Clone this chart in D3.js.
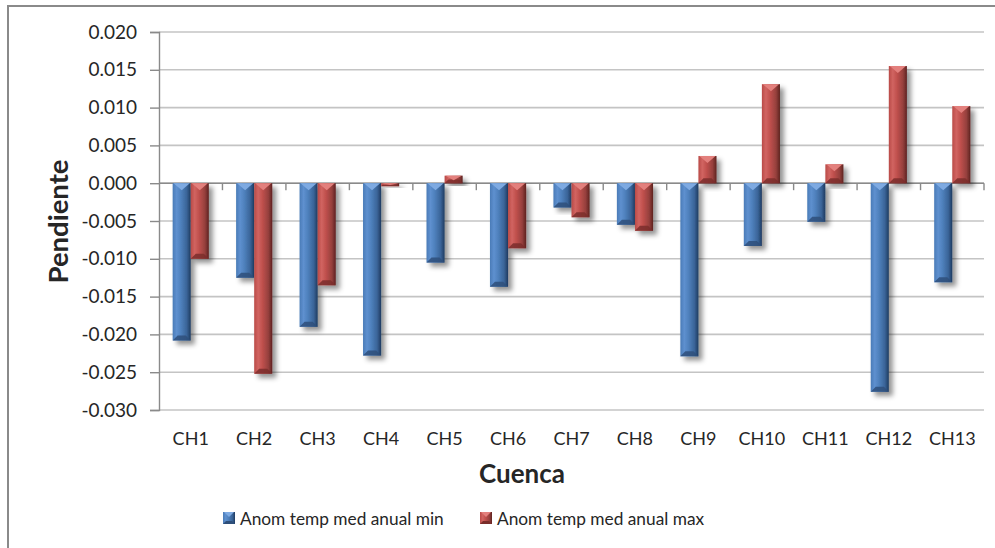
<!DOCTYPE html>
<html>
<head>
<meta charset="utf-8">
<script src="https://cdn.jsdelivr.net/npm/d3@7"></script>
<style>
  html, body { margin: 0; padding: 0; background: #fff; }
  svg { display: block; }
  text { font-family: Lato, "Open Sans", sans-serif; fill: #262626; }
</style>
</head>
<body>
<svg id="chart" width="995" height="548"></svg>
<script>
// Trend slopes of annual mean temperature anomalies per basin
const categories = ["CH1","CH2","CH3","CH4","CH5","CH6","CH7","CH8","CH9","CH10","CH11","CH12","CH13"];
const minSeries = [-0.0208, -0.0125, -0.0190, -0.0228, -0.0105, -0.0137, -0.0032, -0.0055, -0.0229, -0.0083, -0.0051, -0.0276, -0.0131];
const maxSeries = [-0.0100, -0.0252, -0.0135, -0.0004, 0.0010, -0.0086, -0.0045, -0.0063, 0.0036, 0.0131, 0.0025, 0.0155, 0.0102];
const seriesNames = ["Anom temp med anual min", "Anom temp med anual max"];
const yTicks = [0.020, 0.015, 0.010, 0.005, 0.000, -0.005, -0.010, -0.015, -0.020, -0.025, -0.030];

const svg = d3.select("#chart");
const plot = { left: 159, right: 984, top: 32, bottom: 410 };

// chart frame
svg.append("rect").attr("x", 8).attr("y", 6).attr("width", 1100).attr("height", 700)
  .attr("fill", "#fff").attr("stroke", "#8a8a8a").attr("stroke-width", 2);

const defs = svg.append("defs");
const palettes = [
  { id: "blue", stops: [["0%", "#4a7bb7"], ["22%", "#5e90cf"], ["45%", "#4f81bd"], ["78%", "#3a6498"], ["100%", "#1f3b60"]],
    top: "#7eaae2", bottom: "#2e4f7a" },
  { id: "red", stops: [["0%", "#b94a47"], ["22%", "#d16461"], ["45%", "#c0504d"], ["78%", "#96403d"], ["100%", "#5e2220"]],
    top: "#e3807d", bottom: "#7a2d2b" }
];
palettes.forEach(p => {
  const g = defs.append("linearGradient").attr("id", "grad-" + p.id)
    .attr("x1", "0%").attr("x2", "100%").attr("y1", "0%").attr("y2", "0%");
  p.stops.forEach(s => g.append("stop").attr("offset", s[0]).attr("stop-color", s[1]));
});
const shadow = defs.append("filter").attr("id", "shadow")
  .attr("x", "-30%").attr("y", "-30%").attr("width", "200%").attr("height", "160%");
shadow.append("feDropShadow").attr("dx", 4).attr("dy", 4).attr("stdDeviation", 2.6)
  .attr("flood-color", "#000").attr("flood-opacity", 0.42);

const x0 = d3.scaleBand().domain(categories).range([plot.left, plot.right])
  .paddingInner(0.43).paddingOuter(0.215);
const x1 = d3.scaleBand().domain([0, 1]).range([0, x0.bandwidth()]).padding(0);
const y = d3.scaleLinear().domain([-0.030, 0.020]).range([plot.bottom, plot.top]);

// horizontal gridlines
svg.append("g").selectAll("line").data(yTicks).join("line")
  .attr("x1", plot.left).attr("x2", plot.right)
  .attr("y1", d => y(d)).attr("y2", d => y(d))
  .attr("stroke", "#c4c4c4").attr("stroke-width", 1.6);

// value axis (plain hyphen for negatives)
const fmt = d3.format(".3f");
const yAxis = d3.axisLeft(y).tickValues(yTicks).tickSize(9).tickPadding(13)
  .tickFormat(d => fmt(d).replace("\u2212", "-"));
const gy = svg.append("g").attr("transform", `translate(${plot.left},0)`).call(yAxis);
gy.select(".domain").attr("stroke", "#8a8a8a").attr("stroke-width", 1.4);
gy.selectAll(".tick line").attr("stroke", "#8a8a8a").attr("stroke-width", 1.4);
gy.selectAll(".tick text").attr("font-size", 19).attr("fill", "#262626")
  .style("font-family", "Lato, sans-serif");

// category axis at zero
svg.append("line").attr("x1", plot.left).attr("x2", plot.right)
  .attr("y1", y(0)).attr("y2", y(0)).attr("stroke", "#8a8a8a").attr("stroke-width", 1.4);
const boundaries = d3.range(categories.length + 1).map(i => plot.left + i * x0.step());
svg.append("g").selectAll("line").data(boundaries.slice(1)).join("line")
  .attr("x1", d => d).attr("x2", d => d).attr("y1", y(0)).attr("y2", y(0) + 7)
  .attr("stroke", "#8a8a8a").attr("stroke-width", 1.4);

// bars with bevelled faces
function drawBar(g, x, w, v, p) {
  const yTop = Math.min(y(v), y(0)), yBot = Math.max(y(v), y(0));
  const h = Math.max(yBot - yTop, 1.5);
  const b = Math.min(5, h / 2);
  g.append("rect").attr("x", x).attr("y", yTop).attr("width", w).attr("height", h)
    .attr("fill", `url(#grad-${p.id})`);
  g.append("polygon").attr("points",
    [[x, yTop + h], [x + w, yTop + h], [x + w - b, yTop + h - b], [x + b, yTop + h - b]].join(" "))
    .attr("fill", p.bottom).attr("opacity", 0.85);
  const tb = Math.min(7, h * 0.6);
  g.append("polygon").attr("points",
    [[x + 1, yTop], [x + w - 1, yTop], [x + w / 2, yTop + tb]].join(" "))
    .attr("fill", p.top);
}

const barLayer = svg.append("g");
categories.forEach((c, i) => {
  [minSeries[i], maxSeries[i]].forEach((v, s) => {
    const g = barLayer.append("g").attr("filter", "url(#shadow)");
    drawBar(g, x0(c) + x1(s), x1.bandwidth(), v, palettes[s]);
  });
});

// category labels
svg.append("g").selectAll("text").data(categories).join("text")
  .attr("x", d => x0(d) + x0.bandwidth() / 2).attr("y", 445)
  .attr("text-anchor", "middle").attr("font-size", 18).text(d => d);

// axis titles
svg.append("text").attr("transform", "translate(68,221.5) rotate(-90)")
  .attr("text-anchor", "middle").attr("font-size", 27.5).attr("font-weight", "bold")
  .attr("fill", "#000").text("Pendiente");
svg.append("text").attr("x", 522).attr("y", 483)
  .attr("text-anchor", "middle").attr("font-size", 26).attr("font-weight", "bold")
  .attr("fill", "#000").text("Cuenca");

// legend
const legendX = [223, 480];
seriesNames.forEach((name, s) => {
  const p = palettes[s];
  const g = svg.append("g").attr("transform", `translate(${legendX[s]},512)`);
  g.append("rect").attr("width", 12).attr("height", 12).attr("fill", `url(#grad-${p.id})`);
  g.append("polygon").attr("points", "1,0 11,0 6,5").attr("fill", p.top);
  g.append("polygon").attr("points", "0,12 12,12 9,9 3,9").attr("fill", p.bottom);
  g.append("text").attr("x", 17).attr("y", 13).attr("font-size", 17.3).text(name);
});
</script>
</body>
</html>
